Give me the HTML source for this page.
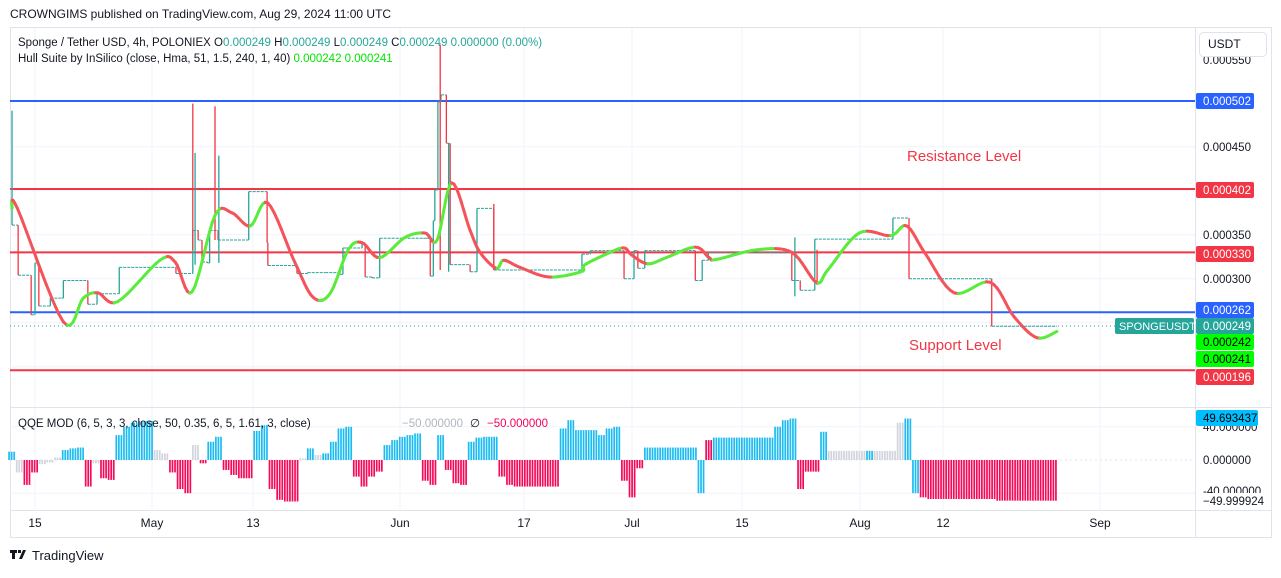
<!DOCTYPE html>
<html><head><meta charset="utf-8">
<style>
body{margin:0;background:#fff;width:1281px;height:573px;overflow:hidden;font-family:"Liberation Sans",sans-serif;}
svg text{font-family:"Liberation Sans",sans-serif;}
</style></head>
<body>
<svg id="c" width="1281" height="573" xmlns="http://www.w3.org/2000/svg">
<text x="10" y="18" font-size="12" fill="#131722">CROWNGIMS published on TradingView.com, Aug 29, 2024 11:00 UTC</text>
<rect x="10.5" y="27.5" width="1261" height="510" fill="none" stroke="#e0e3eb"/>
<g id="grid"></g>
<g id="levels"></g>
<g id="price"></g>
<g id="hull"></g>
<g id="qqe"></g>
<line x1="10" y1="407.5" x2="1272" y2="407.5" stroke="#e0e3eb"/>
<line x1="10" y1="510.5" x2="1272" y2="510.5" stroke="#e0e3eb"/>
<line x1="1195.5" y1="27" x2="1195.5" y2="538" stroke="#e0e3eb"/>
<line x1="10" y1="326" x2="1115" y2="326" stroke="#26a69a" stroke-dasharray="1,3"/>
<text x="18" y="46" font-size="11.5" fill="#131722">Sponge / Tether USD, 4h, POLONIEX  O<tspan fill="#26a69a">0.000249</tspan>  H<tspan fill="#26a69a">0.000249</tspan>  L<tspan fill="#26a69a">0.000249</tspan>  C<tspan fill="#26a69a">0.000249  0.000000 (0.00%)</tspan></text>
<text x="18" y="62" font-size="11.5" fill="#131722">Hull Suite by InSilico (close, Hma, 51, 1.5, 240, 1, 40)  <tspan fill="#00e600">0.000242  0.000241</tspan></text>
<text x="18" y="427" font-size="11.5" fill="#131722">QQE MOD (6, 5, 3, 3, close, 50, 0.35, 6, 5, 1.61, 3, close)</text>
<text x="402" y="427" font-size="11.5" fill="#b2b5be">−50.000000</text>
<text x="470" y="427" font-size="11.5" fill="#131722">∅</text>
<text x="487" y="427" font-size="11.5" fill="#f50057">−50.000000</text>
<text x="907" y="161" font-size="15" fill="#f23645">Resistance Level</text>
<text x="909" y="350" font-size="15" fill="#f23645">Support Level</text>
<g id="axis"></g>
<rect x="1199.5" y="32.5" width="67" height="24" rx="4" fill="#fff" stroke="#e0e3eb"/>
<text x="1208" y="48" font-size="12" fill="#131722">USDT</text>
<g transform="translate(10,549)">
<path d="M0 1h7v3H5v6H2V4H0z M8 1h3v3H8z M13 1h3l-4 9H9z" fill="#131722"/>
<text x="22" y="11" font-size="13" fill="#131722">TradingView</text>
</g>
</svg>
<script>
// ---- data ----
const levelPrices=[0.000502,0.000402,0.000330,0.000262,0.000196];
const levelColors=['#2962ff','#f23645','#f23645','#2962ff','#f23645'];
const priceTicks=[0.000450,0.000350,0.000300];
const dateLabels=['15','May','13','Jun','17','Jul','15','Aug','12','Sep'];
const dateDays=[0,16,28,47,63,77,91,108,119,139];
const dateX=[35,152,253,400,524,632,742,860,943,1100];
const stepDays=[-3.0,-2.2,-0.5,0,0.5,1.8,2.0,3.5,3.7,6.3,6.9,8.0,8.1,10.8,11.0,18.4,20.6,21.3,21.8,22.5,22.8,23.9,26.5,27.9,30.0,30.3,30.4,34.2,35.5,35.6,37.9,39.8,40.2,40.5,42.7,43.1,44.0,45.0,50.7,51.0,51.6,52.0,52.2,52.6,53.0,53.7,54.2,56.8,57.7,59.9,71.4,72.5,76.9,78.2,78.7,79.6,86.2,87.1,87.9,98.8,99.9,101.8,112.0,114.1,124.9,133.4];
const stepCloses=[361,304,259,318,269,269,278,278,298,298,271,271,283,283,313,306,355,344,319,318,355,344,344,399,399,341,315,306,306,307,307,305,335,335,340,302,301,346,346,346,303,366,401,501,509,454,316,308,380,310,328,332,300,332,312,332,298,321,330,298,287,345,369,300,246,246];
const wickDays=[-3.0,20.6,20.9,23.5,24.0,52.9,54.0,59.9,99.2,102.1];
const wickLows=[361,333,316,344,318,310,308,310,280,293];
const wickHighs=[491,499,443,496,440,566,454,385,347,333];
const hullDays=[-3.0,-2.3,3.7,6.3,8.2,10.8,16.3,18.3,20.5,23.5,25.7,28.1,30.4,33.9,36.3,38.5,40.9,42.7,45.0,48.3,50.9,52.5,54.4,56.8,58.1,60.2,61.2,63.3,67.1,71.3,71.8,75.1,76.9,77.9,80.0,82.4,86.2,88.0,89.0,94.3,98.8,102.0,103.5,107.6,111.7,113.8,116.2,120.0,124.7,127.8,130.8,133.4];
const hullValues=[380,380,251,278,284,274,321,319,285,372,375,360,386,319,279,283,333,341,324,347,352,344,409,355,330,312,321,313,302,308,316,330,335,327,317,324,336,324,322,333,330,296,310,352,349,360,329,284,296,257,233,240];
const qqeValues=[10,-15,-30,-15,-5,-3,3,12,14,15,-32,-4,-22,-24,30,40,45,47,47,12,8,-15,-35,-40,18,-4,22,28,-12,-18,-22,-22,35,42,-35,-48,-50,-50,2,14,6,8,22,38,40,-20,-32,-20,-14,18,24,28,30,32,-25,-30,30,-12,-28,-30,22,27,28,28,-20,-30,-32,-32,-32,-32,-32,-32,38,48,36,36,36,30,38,40,-25,-45,-10,15,15,15,15,15,15,15,-40,24,27,27,27,27,27,27,27,27,40,48,50,-35,-14,-14,34,11,11,11,11,11,11,11,11,11,45,50,-40,-45,-47,-47,-47,-47,-47,-47,-47,-47,-47,-49,-49,-49,-49,-49,-49,-49,-49];
const qqeStates='bgrrgggbbbrgrrbbbbbggrrrgrbbrrrrbbrrrrgbgbbbbrrrrbbbbbrrbrrrbbbbrrrrrrrrbbbbbbbbrrrbbbbbbbbrbbbbbbbbbbbrrrbgggggbggggbbrrrrrrrrrrrrrrrrrrr';
const qqeStartDay=-3;
// ---- scales ----
const X=d=>35+d*7.66;
const Y=p=>101+(502-p)*0.88;
const YP=v=>Y(v*1e6);
const Q=v=>460-v*0.83;
const NS='http://www.w3.org/2000/svg';
function mk(tag,parent,attrs){const e=document.createElementNS(NS,tag);for(const k in attrs)e.setAttribute(k,attrs[k]);parent.appendChild(e);return e;}
const grid=document.getElementById('grid');
dateX.forEach((x,i)=>{const l=mk('line',grid,{x1:x,x2:x,y1:28,y2:510,stroke:'#f0f3fa'});

});
priceTicks.concat([0.000400,0.000250,0.000200]).forEach(p=>{const l=mk('line',grid,{x1:10,x2:1195,y1:YP(p),y2:YP(p),stroke:'#f0f3fa'});

});
[40,-40].forEach(v=>{const l=mk('line',grid,{x1:10,x2:1195,y1:Q(v),y2:Q(v),stroke:'#f0f3fa'});

});
const zl=mk('line',grid,{x1:10,x2:1195,y1:Q(0),y2:Q(0),stroke:'#e0e3eb','stroke-dasharray':'2,3'});


const lev=document.getElementById('levels');
levelPrices.forEach((p,i)=>{const l=mk('line',lev,{x1:10,x2:1195,y1:YP(p),y2:YP(p),stroke:levelColors[i],'stroke-width':2});

});
const pg=document.getElementById('price');
for(let i=0;i<stepDays.length-1;i++){
 const x1=X(stepDays[i]),x2=X(stepDays[i+1]),y=Y(stepCloses[i]),yn=Y(stepCloses[i+1]);
 const h=mk('line',pg,{x1:x1,x2:x2,y1:y,y2:y,stroke:'#26a69a','stroke-width':1,'stroke-dasharray':'3,1'});
 
 
 const v=mk('line',pg,{x1:x2,x2:x2,y1:y,y2:yn,stroke:yn<y?'#26a69a':'#f23645','stroke-width':1.3});
 
 
}
wickDays.forEach((d,i)=>{const w=mk('line',pg,{x1:X(d),x2:X(d),y1:Y(wickLows[i]),y2:Y(wickHighs[i]),stroke:i%2?'#f23645':'#26a69a','stroke-width':1.3});

});
const hg=document.getElementById('hull');
const pts=hullDays.map((d,i)=>[X(d),Y(hullValues[i])]);
for(let i=0;i<pts.length-1;i++){
 const p0=pts[Math.max(0,i-1)],p1=pts[i],p2=pts[i+1],p3=pts[Math.min(pts.length-1,i+2)];
 let prev=p1;
 for(let s=1;s<=8;s++){const t=s/8,t2=t*t,t3=t2*t;
  const f=(a,b,c,d)=>0.5*((2*b)+(-a+c)*t+(2*a-5*b+4*c-d)*t2+(-a+3*b-3*c+d)*t3);
  const q=[f(p0[0],p1[0],p2[0],p3[0]),f(p0[1],p1[1],p2[1],p3[1])];
  const seg=mk('line',hg,{x1:prev[0],y1:prev[1],x2:q[0],y2:q[1],stroke:q[1]<=prev[1]?'#5aeb3c':'#f5535b','stroke-width':3,'stroke-linecap':'round'});
  
  
  prev=q;}
}
const qg=document.getElementById('qqe');
const qc={b:'#1cbcf2',r:'#f50a5a',g:'#d1d4dc'};
qqeValues.forEach((v,i)=>{const d=qqeStartDay+i;
 for(let k=0;k<3;k++){const x=X(d)-3.8+k*2.55;
  const b=mk('rect',qg,{x:x,width:1.7,y:Math.min(Q(0),Q(v)),height:Math.abs(Q(v)-Q(0)),fill:qc[qqeStates[i]]});
  
  }
});
const ax=document.getElementById('axis');
dateLabels.forEach((t,i)=>{const e=mk('text',ax,{x:dateX[i],y:527,'font-size':12,fill:'#131722','text-anchor':'middle'});e.textContent=t;

});
function plain(t,y,n){const e=mk('text',ax,{x:1203,y:y+4,'font-size':11.5,fill:'#131722'});e.textContent=t;

}
function box(t,y,bg,fg,n,w){const r=mk('rect',ax,{x:1196,y:y-8,width:w||58,height:16,rx:2,fill:bg});


const e=mk('text',ax,{x:1203,y:y+4,'font-size':11.5,fill:fg});e.textContent=t;}
plain('0.000550',60,'price-tick');
priceTicks.forEach(p=>plain(p.toFixed(6),YP(p),'price-tick'));
plain('40.000000',427,'qqe-tick');plain('0.000000',460,'qqe-tick');plain('-40.000000',491,'qqe-tick');
box('0.000502',101,'#2962ff','#fff','label-502');
box('0.000402',190,'#f23645','#fff','label-402');
box('0.000330',254,'#f23645','#fff','label-330');
box('0.000262',310,'#2962ff','#fff','label-262');
box('0.000249',326,'#26a69a','#fff','label-last');
box('0.000242',342,'#00ff00','#000','label-hull-1');
box('0.000241',359,'#00ff00','#000','label-hull-2');
box('0.000196',377,'#f23645','#fff','label-196');
box('49.693437',418,'#00bfff','#000','label-qqe',62);
const lr=mk('rect',ax,{x:1196,y:493,width:75,height:16,fill:'#fff'});


plain('−49.999924',501,'qqe-min');
const sr=mk('rect',ax,{x:1115,y:318,width:79,height:16,rx:2,fill:'#26a69a'});


const st=mk('text',ax,{x:1119,y:330,'font-size':11,fill:'#fff'});st.textContent='SPONGEUSDT';
</script>
</body></html>
